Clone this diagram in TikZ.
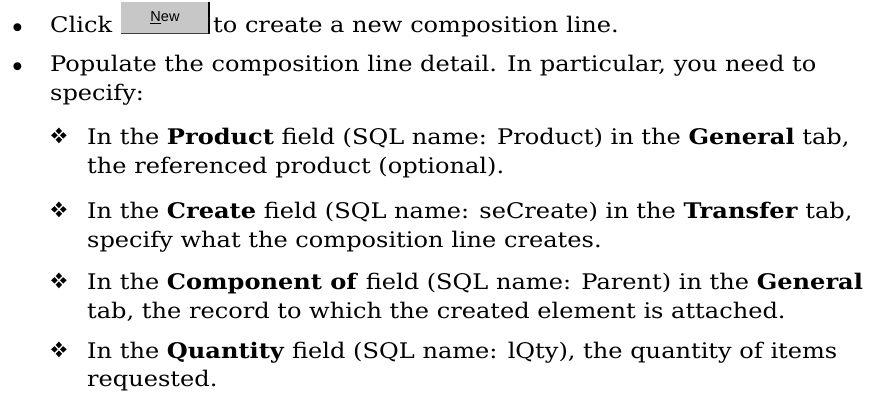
\documentclass[tikz,border=0pt]{standalone}
\usepackage{fontspec}
\usepackage{pifont}
\setmainfont{DejaVu Serif}[FakeStretch=1.12]
\setsansfont{Liberation Sans}
\begin{document}
\begin{tikzpicture}[x=1pt, y=1pt,
    txt/.style={anchor=base west, inner sep=0pt, font=\fontsize{21.5}{26}\selectfont},
    dot/.style={anchor=center, inner sep=0pt, font=\fontsize{11}{13}\selectfont},
    diam/.style={anchor=center, inner sep=0pt, font=\fontsize{22}{26}\selectfont}]
    \useasboundingbox (0,0) rectangle (882,-401);

    % first level
    \node[dot] at (17.5,-27.5) (b1) {\ding{108}};
    \node[txt] at (50,-33) (click) {Click};
    \node[rectangle, fill=black!22, minimum width=88, minimum height=31, inner sep=0pt] at (165,-18) (new) {};
    \draw[black!75, line width=1.2] (new.south west) -- (new.south east);
    \draw[black, line width=1.5] (new.north east) -- (new.south east);
    \node[font=\sffamily\fontsize{14.5}{16}\selectfont, inner sep=0pt] at (new.center) (newtxt) {\underline{N}ew};
    \node[txt] at (213,-33) (click2) {to create a new composition line.};

    \node[dot] at (17.5,-66.5) (b2) {\ding{108}};
    \node[txt] at (50,-72) (pop1) {Populate the composition line detail. In particular, you need to};
    \node[txt] at (50,-100) (pop2) {specify:};

    % second level
    \node[diam] at (59,-136) (d1) {\ding{118}};
    \node[txt] at (87,-144) (prod1) {In the \textbf{Product} field (SQL name: Product) in the \textbf{General} tab,};
    \node[txt] at (87,-173) (prod2) {the referenced product (optional).};

    \node[diam] at (59,-210) (d2) {\ding{118}};
    \node[txt] at (87,-218) (crea1) {In the \textbf{Create} field (SQL name: seCreate) in the \textbf{Transfer} tab,};
    \node[txt] at (87,-247) (crea2) {specify what the composition line creates.};

    \node[diam] at (59,-281) (d3) {\ding{118}};
    \node[txt] at (87,-289) (comp1) {In the \textbf{Component of} field (SQL name: Parent) in the \textbf{General}};
    \node[txt] at (87,-318) (comp2) {tab, the record to which the created element is attached.};

    \node[diam] at (59,-350) (d4) {\ding{118}};
    \node[txt] at (87,-358) (qty1) {In the \textbf{Quantity} field (SQL name: lQty), the quantity of items};
    \node[txt] at (87,-386) (qty2) {requested.};
\end{tikzpicture}
\end{document}
